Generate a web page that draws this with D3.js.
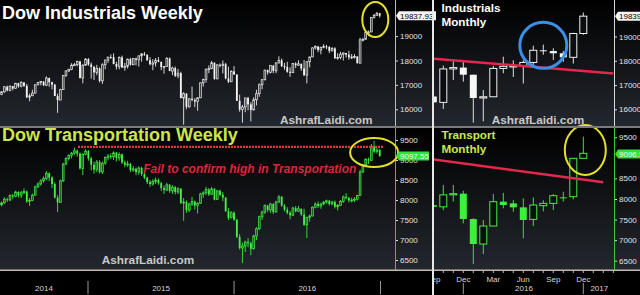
<!DOCTYPE html>
<html>
<head>
<meta charset="utf-8">
<script src="https://cdn.jsdelivr.net/npm/d3@7"></script>
<style>
  html, body { margin: 0; padding: 0; background: #000; }
  svg { display: block; }
  text { font-family: "Liberation Sans", Arial, sans-serif; }
</style>
</head>
<body>
<div id="chart"></div>
<script>
// weekly bars, one per Friday, 30 May 2014 .. 30 Dec 2016
const weekFirst = '2014-05-30';
const weekLast = '2016-12-30';

// Dow Jones Industrial Average, weekly
const djiaOpen = [
  16606,16717,16924,16776,16948,16851,17068,16944,17100,16961,16493,16554,16663,17001,17098,17138,16988,17280,17113,17009,16544,16380,16805,17391,17573,17634,17810,17828,17958,17281,17805,
  18054,17833,17737,17512,17673,17165,17825,18019,18141,18133,17856,17749,18128,17713,17763,18058,17827,18080,18025,18191,18273,18232,18011,17849,17899,18016,17947,17730,17760,18086,17569,17690,17373,17477,16460,16643,16102,16433,16385,16315,16472,17084,17216,17647,17664,17910,17245,17824,17798,17848,17265,17128,17553,
  17425,16347,15988,16094,16466,16205,15974,16392,16640,17007,17213,17602,17516,17793,17577,17898,18004,17774,17740,17535,17501,17873,17807,17865,17675,17400,17949,18147,18516,18571,18432,18543,18576,18553,18395,18492,18085,18124,18261,18308,18240,18138,18145,18161,17888,18848,18868,19152,19171,19757,19843,19934
];
const djiaHigh = [
  16735,16950,16970,16978,16955,17075,17085,17150,17110,17040,16640,16800,17040,17120,17160,17150,17350,17300,17130,17040,16640,16840,17395,17600,17660,17890,17900,17990,17990,17850,18100,
  18100,17920,17780,17820,17720,17890,18030,18150,18250,18290,17950,18170,18200,17900,18070,18110,18100,18120,18200,18300,18350,18250,18140,18050,18100,18140,17950,17780,18140,18120,17750,17750,17650,17540,16700,16660,16450,16930,16460,16490,17100,17250,17660,17800,17980,17920,17840,17880,18000,17900,17750,17600,17770,
  17430,16600,16180,16480,16510,16290,16490,16800,17060,17240,17630,17630,17800,17800,17930,18170,18080,17900,17950,17720,17890,17930,18010,17870,18020,17960,18150,18540,18620,18600,18560,18670,18640,18590,18550,18540,18300,18360,18330,18310,18400,18270,18260,18180,18930,18930,19160,19230,19760,19910,19990,19950
];
const djiaLow = [
  16580,16680,16730,16740,16780,16840,16880,16900,16920,16460,16330,16540,16660,16990,16980,16950,16950,16920,16820,16540,15855,16370,16800,17330,17530,17600,17780,17760,17270,17060,17800,
  17780,17260,17200,17400,17100,17040,17640,17900,18070,17840,17630,17640,17690,17580,17670,17790,17810,17800,17750,17950,18190,17990,17800,17600,17750,17930,17600,17460,17750,17560,17400,17320,17270,16450,15370,16000,16070,16330,16090,15940,16460,16930,17100,17480,17660,17210,17240,17720,17470,17230,17080,17120,17420,
  16340,15900,15450,15880,15960,15503,15960,16160,16510,16820,17180,17420,17470,17480,17480,17890,17730,17620,17500,17330,17490,17690,17780,17580,17360,17060,17720,18140,18450,18340,18250,18500,18460,18300,18370,18080,18030,18050,18000,18120,18030,18060,18080,17880,17888,18780,18860,19000,19160,19720,19840,19760
];
const djiaClose = [
  16717,16924,16776,16948,16851,17068,16944,17100,16961,16493,16554,16663,17001,17098,17138,16988,17280,17113,17009,16544,16380,16805,17391,17573,17634,17810,17828,17958,17281,17805,18054,
  17833,17737,17512,17673,17165,17825,18019,18141,18133,17856,17749,18128,17713,17763,18058,17827,18080,18025,18191,18273,18232,18011,17849,17899,18016,17947,17730,17760,18086,17569,17690,17373,17477,16460,16643,16102,16433,16385,16315,16472,17084,17216,17647,17664,17910,17245,17824,17798,17848,17265,17128,17553,17425,
  16347,15988,16094,16466,16205,15974,16392,16640,17007,17213,17602,17516,17793,17577,17898,18004,17774,17740,17535,17501,17873,17807,17865,17675,17400,17949,18147,18516,18571,18432,18543,18576,18553,18395,18492,18085,18124,18261,18308,18240,18138,18145,18161,17888,18848,18868,19152,19171,19757,19843,19934,19838
];

// Dow Jones Transportation Average, weekly
const djtOpen = [
  7880,7930,8020,8000,8110,8090,8200,8120,8180,8210,7960,7990,8120,8330,8400,8480,8540,8670,8560,8400,8060,7940,8480,8900,9040,9110,9170,9230,9160,8790,9140,
  9220,9040,8880,8760,8950,8700,8920,9060,9100,9080,9180,9050,9140,8940,8880,8900,8750,8780,8700,8800,8650,8560,8450,8400,8460,8500,8420,8300,8250,8380,8230,8320,8200,8280,7930,7950,7750,7900,7960,7860,7920,8150,8180,8260,8140,8280,8010,8230,8130,8060,7720,7560,7680,
  7510,7080,6800,6850,6950,6920,6780,7100,7280,7580,7700,7860,7750,7900,7700,7950,8080,7860,7760,7680,7620,7800,7720,7780,7640,7380,7560,7600,7820,7900,7850,7900,7950,7980,7900,7950,7830,7860,7960,8080,8050,7990,8000,8020,8110,8700,8870,9020,8990,9330,9210,9250
];
const djtHigh = [
  7960,8070,8060,8140,8150,8230,8220,8230,8290,8240,8050,8160,8360,8440,8520,8590,8720,8690,8590,8440,8120,8510,8930,9070,9140,9200,9310,9260,9190,9170,9270,
  9250,9080,8960,9000,9000,8960,9090,9150,9170,9220,9200,9190,9160,8990,8980,8930,8850,8810,8840,8830,8700,8580,8500,8520,8560,8540,8450,8360,8430,8400,8370,8350,8320,8300,8050,7990,7930,8080,7990,7940,8180,8220,8330,8300,8320,8290,8250,8260,8200,8080,7800,7720,7720,
  7520,7150,6930,6980,7050,6960,7130,7320,7610,7730,7890,7880,7930,7920,7980,8120,8100,7900,7820,7720,7830,7850,7850,7790,7780,7580,7640,7840,7940,7960,7930,7970,8010,8000,7980,7990,7900,8000,8110,8170,8080,8060,8070,8130,8760,8900,9040,9060,9400,9480,9300,9280
];
const djtLow = [
  7840,7900,7950,7970,8030,8070,8060,8050,8150,7930,7850,7970,8110,8300,8360,8430,8500,8470,8300,8040,7700,7930,8450,8870,8990,9040,9130,9080,8760,8620,9120,
  8980,8740,8660,8700,8660,8650,8880,8990,9020,9000,8960,8980,8900,8820,8830,8700,8700,8620,8630,8600,8520,8400,8330,8360,8400,8380,8230,8150,8220,8180,8150,8140,8150,7900,7480,7680,7700,7850,7760,7660,7900,8050,8120,8100,8130,7990,8000,8100,7970,7700,7500,7540,7480,
  7050,6760,6420,6700,6820,6620,6760,7000,7250,7500,7650,7700,7680,7650,7690,7930,7830,7720,7640,7520,7600,7690,7700,7600,7350,7050,7460,7590,7790,7800,7780,7870,7910,7860,7870,7790,7740,7850,7930,8020,7940,7940,7950,7990,8100,8680,8850,8900,8980,9170,9160,9080
];
const djtClose = [
  7930,8020,8000,8110,8090,8200,8120,8180,8210,7960,7990,8120,8330,8400,8480,8540,8670,8560,8400,8060,7940,8480,8900,9040,9110,9170,9230,9160,8790,9140,9220,
  9040,8880,8760,8950,8700,8920,9060,9100,9080,9180,9050,9140,8940,8880,8900,8750,8780,8700,8800,8650,8560,8450,8400,8460,8500,8420,8300,8250,8380,8230,8320,8200,8280,7930,7950,7750,7900,7960,7860,7920,8150,8180,8260,8140,8280,8010,8230,8130,8060,7720,7560,7680,7510,
  7080,6800,6850,6950,6920,6780,7100,7280,7580,7700,7860,7750,7900,7700,7950,8080,7860,7760,7680,7620,7800,7720,7780,7640,7380,7560,7600,7820,7900,7850,7900,7950,7980,7900,7950,7830,7860,7960,8080,8050,7990,8000,8020,8110,8700,8870,9020,8990,9330,9210,9250,9100
];

// monthly bars, Sep 2015 .. Dec 2016
const months = ['2015-09','2015-10','2015-11','2015-12','2016-01','2016-02','2016-03','2016-04','2016-05','2016-06','2016-07','2016-08','2016-09','2016-10','2016-11','2016-12'];
const indMonthOpen  = [16528,16285,17663,17720,17425,16466,16517,17685,17773,17787,17930,18432,18401,18308,18142,19124];
const indMonthHigh  = [16933,17799,17978,18009,17425,16795,17790,18167,18016,18016,18622,18668,18513,18400,19152,19988];
const indMonthLow   = [15942,16013,17210,17138,15450,15503,16517,17484,17331,17063,17713,18247,18031,17958,17884,19069];
const indMonthClose = [16285,17663,17720,17425,16466,16517,17685,17773,17787,17930,18432,18401,18308,18142,19124,19838];
const trMonthOpen  = [7850,7810,8100,8130,7513,6905,7343,7935,7894,7797,7505,7838,7894,8040,8056,8989];
const trMonthHigh  = [8050,8340,8340,8200,7530,7489,8121,8150,7975,8016,8040,7970,8121,8178,8989,9517];
const trMonthLow   = [7600,7730,7940,7408,6418,6662,7343,7773,7691,7043,7343,7700,7732,7935,7992,8989];
const trMonthClose = [7810,8100,8130,7513,6905,7343,7935,7854,7797,7489,7854,7894,8080,8024,8989,9111];

// axis labels
const indTicks = [16000, 17000, 18000, 19000];
const trTicks = [6500, 7000, 7500, 8000, 8500, 9000, 9500];
const trTicksRight = [6500, 7000, 7500, 8000, 8500, 9500];
const yearLabels = ['2014', '2015', '2016'];
const monthLabels = [[0, 'Sep'], [3, 'Dec'], [6, 'Mar'], [9, 'Jun'], [12, 'Sep'], [15, 'Dec']];
const lastInd = '19837.93', lastIndM = '19839.38';
const lastTr = '9097.55', lastTrM = '9096.98';

// annotations, in data units
const highLine = {from: '2014-12-07', to: '2017-01-08', value: 9330};
const indTrend = [[0, 18090], [18, 17475]];
const trTrend = [[0, 8965], [17, 8405]];

const parse = d3.timeParse('%Y-%m-%d');
const W = 640, H = 295;

const weeks = d3.timeFriday.range(parse(weekFirst), d3.timeDay.offset(parse(weekLast), 1));
const djia = weeks.map((k, i) => ({k, o: djiaOpen[i], h: djiaHigh[i], l: djiaLow[i], c: djiaClose[i]}));
const djt = weeks.map((k, i) => ({k, o: djtOpen[i], h: djtHigh[i], l: djtLow[i], c: djtClose[i]}));
const indM = months.map((m, i) => ({k: i, o: indMonthOpen[i], h: indMonthHigh[i], l: indMonthLow[i], c: indMonthClose[i]}));
const trM = months.map((m, i) => ({k: i, o: trMonthOpen[i], h: trMonthHigh[i], l: trMonthLow[i], c: trMonthClose[i]}));

// scales
const xW = d3.scaleTime().domain([parse('2015-01-01'), parse('2017-01-01')]).range([88, 380.5]);
const yTL = d3.scaleLinear().domain([16000, 19000]).range([109.3, 36.1]);
const yBL = d3.scaleLinear().domain([6500, 9500]).range([260, 140]);
const xM = d3.scaleLinear().domain([0, 18]).range([433.3, 613.3]);
const yTR = d3.scaleLinear().domain([16000, 19000]).range([109.3, 36.5]);
const yBR = d3.scaleLinear().domain([6500, 9500]).range([260.7, 137.3]);

const svg = d3.select('#chart').append('svg').attr('width', W).attr('height', H);
const defs = svg.append('defs');
const grad = defs.append('linearGradient').attr('id', 'bg').attr('x1', 0).attr('y1', 0).attr('x2', 0).attr('y2', 1);
grad.append('stop').attr('offset', '0%').attr('stop-color', '#000');
grad.append('stop').attr('offset', '100%').attr('stop-color', '#23272e');

function clip(id, x, y, w, h) {
  defs.append('clipPath').attr('id', id).append('rect').attr('x', x).attr('y', y).attr('width', w).attr('height', h);
  return `url(#${id})`;
}

svg.append('rect').attr('width', W).attr('height', H).attr('fill', '#000');
svg.append('rect').attr('y', 0).attr('width', W).attr('height', 126).attr('fill', 'url(#bg)');
svg.append('rect').attr('y', 128).attr('width', W).attr('height', 142).attr('fill', 'url(#bg)');

function candles(g, rows, x, y, bw, col) {
  const c = g.selectAll('g.c').data(rows).join('g').attr('class', 'c');
  c.append('line')
    .attr('x1', d => x(d.k)).attr('x2', d => x(d.k))
    .attr('y1', d => y(d.h)).attr('y2', d => y(d.l))
    .attr('stroke', col.wick).attr('stroke-width', 1);
  c.append('rect')
    .attr('x', d => x(d.k) - bw / 2)
    .attr('y', d => y(Math.max(d.o, d.c)))
    .attr('width', bw)
    .attr('height', d => Math.max(1, Math.abs(y(d.o) - y(d.c))))
    .attr('fill', d => d.c >= d.o ? col.upFill : col.down)
    .attr('stroke', d => d.c >= d.o ? col.up : 'none')
    .attr('stroke-width', col.sw);
}

const white = {wick: '#d4d4d4', up: '#e8e8e8', upFill: '#3a3a3a', down: '#f4f4f4', sw: 0.7};
const green = {wick: '#36d436', up: '#46ea46', upFill: '#1f5a1f', down: '#44f044', sw: 0.7};
const whiteM = {wick: '#e0e0e0', up: '#f0f0f0', upFill: '#0b0d10', down: '#f6f6f6', sw: 1};
const greenM = {wick: '#3ce03c', up: '#46ee46', upFill: '#0b0d10', down: '#3cf03c', sw: 1};

candles(svg.append('g').attr('clip-path', clip('cTL', 0, 0, 395, 126)), djia, xW, yTL, 1.8, white);
candles(svg.append('g').attr('clip-path', clip('cBL', 0, 128, 395, 142)), djt, xW, yBL, 1.8, green);
candles(svg.append('g').attr('clip-path', clip('cTR', 434, 0, 180.5, 126)), indM, xM, yTR, 7, whiteM);
candles(svg.append('g').attr('clip-path', clip('cBR', 434, 128, 180.5, 142)), trM, xM, yBR, 7, greenM);

// y axes
function yAxis(x, y, ticks, y0, y1, color) {
  const g = svg.append('g').attr('transform', `translate(${x},0)`)
    .call(d3.axisRight(y).tickValues(ticks).tickSize(3).tickPadding(2).tickFormat(d3.format('d')));
  g.select('.domain').remove();
  g.selectAll('.tick line').attr('stroke', '#dcdcdc');
  g.selectAll('.tick text').attr('fill', '#e2e2e2').style('font-size', '8px').style('font-family', '"Liberation Sans", Arial, sans-serif');
  svg.append('line').attr('x1', x + 0.5).attr('x2', x + 0.5).attr('y1', y0).attr('y2', y1).attr('stroke', color).attr('stroke-width', 1);
}
yAxis(395, yTL, indTicks, 0, 126, '#bdbdbd');
yAxis(395, yBL, trTicks, 128, 270, '#3cc83c');
yAxis(614, yTR, indTicks, 0, 126, '#d8d8d8');
yAxis(614, yBR, trTicksRight, 128, 270, '#3cc83c');

// x axes
svg.append('rect').attr('y', 269.5).attr('width', W).attr('height', 1.5).attr('fill', '#c8b4ae');
const axW = svg.append('g').attr('transform', 'translate(0,271)')
  .attr('clip-path', clip('cAL', 0, 260, 395, 35))
  .call(d3.axisBottom(xW).ticks(d3.timeMonth.every(1)).tickSize(2).tickFormat(''));
axW.select('.domain').remove();
axW.selectAll('.tick line').attr('stroke', '#bdb5b0');

const yearEdges = [xW.range()[0] - 88, xW(parse('2015-01-01')), xW(parse('2016-01-01')), xW(parse('2017-01-01'))];
svg.append('g').selectAll('text').data(yearLabels).join('text')
  .attr('x', (d, i) => (yearEdges[i] + yearEdges[i + 1]) / 2)
  .attr('y', 291)
  .attr('text-anchor', 'middle')
  .attr('fill', '#d6d6d6').style('font-size', '8px')
  .text(d => d);
svg.append('g').selectAll('line').data(yearEdges.slice(1)).join('line')
  .attr('x1', d => d).attr('x2', d => d).attr('y1', 281).attr('y2', 294)
  .attr('stroke', '#9a9a9a').attr('stroke-width', 1);

const axM = svg.append('g').attr('clip-path', clip('cAR', 434, 260, 206, 35));
axM.selectAll('line.t').data(d3.range(0, 19)).join('line').attr('class', 't')
  .attr('x1', d => xM(d)).attr('x2', d => xM(d)).attr('y1', 271).attr('y2', 273)
  .attr('stroke', '#bdb5b0');
axM.selectAll('text.m').data(monthLabels).join('text').attr('class', 'm')
  .attr('x', d => xM(d[0])).attr('y', 282)
  .attr('text-anchor', 'middle')
  .attr('fill', '#d6d6d6').style('font-size', '8px')
  .text(d => d[1]);
axM.selectAll('text.y').data([[9.07, '2016'], [16.6, '2017']]).join('text').attr('class', 'y')
  .attr('x', d => xM(d[0])).attr('y', 291)
  .attr('text-anchor', 'middle')
  .attr('fill', '#d6d6d6').style('font-size', '8px')
  .text(d => d[1]);
axM.selectAll('line.s').data([3, 15]).join('line').attr('class', 's')
  .attr('x1', d => xM(d)).attr('x2', d => xM(d)).attr('y1', 283).attr('y2', 294)
  .attr('stroke', '#9a9a9a');

// annotations
svg.append('line')
  .attr('x1', xW(parse(highLine.from))).attr('x2', xW(parse(highLine.to)))
  .attr('y1', yBL(highLine.value)).attr('y2', yBL(highLine.value))
  .attr('stroke', '#e23434').attr('stroke-width', 2.2).attr('stroke-dasharray', '2,1');

svg.append('text')
  .attr('x', xW(parse('2015-05-19'))).attr('y', yBL(8667))
  .attr('fill', '#d8283a').style('font-size', '12px').style('font-weight', 'bold').style('font-style', 'italic')
  .text('Fail to confirm high in Transportation');

const trendG = svg.append('g').attr('clip-path', clip('cTrend', 434, 0, 180.5, 270));
trendG.append('line')
  .attr('x1', xM(indTrend[0][0])).attr('y1', yTR(indTrend[0][1]))
  .attr('x2', xM(indTrend[1][0])).attr('y2', yTR(indTrend[1][1]))
  .attr('stroke', '#e2284c').attr('stroke-width', 2.5);
trendG.append('line')
  .attr('x1', xM(trTrend[0][0])).attr('y1', yBR(trTrend[0][1]))
  .attr('x2', xM(trTrend[1][0])).attr('y2', yBR(trTrend[1][1]))
  .attr('stroke', '#e2284c').attr('stroke-width', 2.5);

function ring(cx, cy, rx, ry, color, w) {
  svg.append('ellipse').attr('cx', cx).attr('cy', cy).attr('rx', rx).attr('ry', ry)
    .attr('fill', 'none').attr('stroke', color).attr('stroke-width', w);
}
ring(xW(parse('2016-12-19')), yTL(19680), 13, 17.5, '#e6e02a', 2);
ring(xW(parse('2016-12-16')), yBL(9187), 24, 14.5, '#e6e02a', 2);
ring(xM(15.2), yBR(9191), 20.5, 25, '#e6e02a', 2);
ring(xM(11.0), yTR(18635), 23.5, 23, '#3b8fe6', 3);

// titles and watermarks
function label(x, y, txt, size, color, weight) {
  return svg.append('text').attr('x', x).attr('y', y).attr('fill', color)
    .style('font-size', size + 'px').style('font-weight', weight || 'bold').text(txt);
}
label(2, 19, 'Dow Industrials Weekly', 18, '#ffffff');
label(2, 141, 'Dow Transportation Weekly', 18, '#cce64a');
label(441.5, 12, 'Industrials', 11.7, '#ffffff');
label(441.5, 26, 'Monthly', 11.7, '#ffffff');
label(441.5, 139.3, 'Transport', 11.7, '#cce64a');
label(441.5, 153.3, 'Monthly', 11.7, '#cce64a');
label(280, 124, 'AshrafLaidi.com', 11.8, '#c8c8c8');
label(491.7, 124, 'AshrafLaidi.com', 11.8, '#c8c8c8');
label(101.7, 264, 'AshrafLaidi.com', 11.8, '#c8c8c8');

// last price tags
function tag(x0, yc, w, txt, bg, fg) {
  const g = svg.append('g');
  g.append('path')
    .attr('d', `M${x0},${yc} L${x0 + 3},${yc - 4.5} L${x0 + w},${yc - 4.5} L${x0 + w},${yc + 4.5} L${x0 + 3},${yc + 4.5} Z`)
    .attr('fill', bg);
  g.append('text').attr('x', x0 + 4).attr('y', yc + 3).attr('fill', fg)
    .style('font-size', '8px').text(txt);
}
tag(396, yTL(+lastInd), 40, lastInd, '#f4f4f4', '#000');
tag(396, yBL(+lastTr), 33, lastTr, '#34e034', '#e8ffe8');
tag(615, yTR(+lastIndM), 40, lastIndM, '#f4f4f4', '#000');
tag(615, yBR(+lastTrM), 40, lastTrM, '#34e034', '#e8ffe8');

// panel separators
svg.append('rect').attr('y', 126).attr('width', W).attr('height', 2).attr('fill', '#7a7a7a');
svg.append('rect').attr('x', 432).attr('y', 0).attr('width', 2).attr('height', H).attr('fill', '#e8e8e8');
</script>
</body>
</html>
